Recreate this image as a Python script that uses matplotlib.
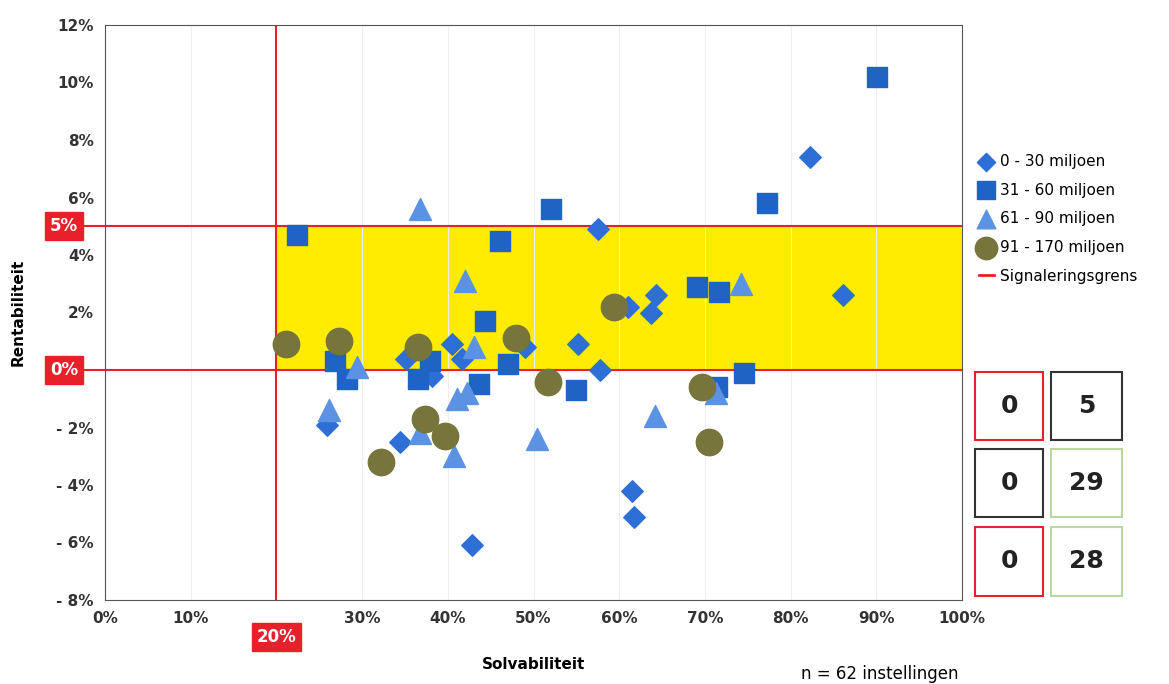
import matplotlib.pyplot as plt
from matplotlib.patches import Rectangle
from matplotlib.lines import Line2D

d_x = [25.9, 34.4, 35.1, 40.5, 41.7, 49.0, 55.2, 57.5, 57.8, 61.0, 63.7, 64.3, 61.5, 61.7, 42.8, 82.3, 86.1, 38.2]
d_y = [-1.9, -2.5, 0.4, 0.9, 0.4, 0.8, 0.9, 4.9, 0.0, 2.2, 2.0, 2.6, -4.2, -5.1, -6.1, 7.4, 2.6, -0.2]
s_x = [22.4, 26.8, 28.2, 36.5, 37.9, 44.3, 43.6, 46.1, 47.0, 52.0, 55.0, 69.1, 71.6, 71.4, 74.6, 77.2, 90.1]
s_y = [4.7, 0.3, -0.3, -0.3, 0.3, 1.7, -0.5, 4.5, 0.2, 5.6, -0.7, 2.9, 2.7, -0.6, -0.1, 5.8, 10.2]
t_x = [36.7, 42.0, 43.0, 29.4, 26.1, 36.7, 40.7, 41.1, 42.2, 50.4, 64.2, 71.3, 74.2]
t_y = [5.6, 3.1, 0.8, 0.1, -1.4, -2.2, -3.0, -1.0, -0.8, -2.4, -1.6, -0.8, 3.0]
c_x = [21.1, 27.3, 36.5, 48.0, 51.7, 59.4, 37.3, 39.7, 32.2, 69.7, 70.5]
c_y = [0.9, 1.0, 0.8, 1.1, -0.4, 2.2, -1.7, -2.3, -3.2, -0.6, -2.5]

x_ticks = list(range(0, 101, 10))
y_ticks = list(range(-8, 13, 2))
counts = [["0", "5"], ["0", "29"], ["0", "28"]]

W, H = 1169, 684
fig = plt.figure(figsize=(W / 100, H / 100), dpi=100)
ax = fig.add_axes([105 / W, 1 - 600 / H, (962 - 105) / W, (600 - 25) / H])
ax.set_xlim(0, 100)
ax.set_ylim(-8, 12)

ax.add_patch(Rectangle((20, 0), 80, 5, color="#ffec00", zorder=1))
ax.grid(axis="x", color="#eeeeee", lw=0.8, zorder=0)
ax.axvline(20, color="#e8202a", lw=1.5, zorder=2)
for yv in (0, 5):
    ax.add_line(Line2D([-6, 100], [yv, yv], color="#e8202a", lw=1.5, clip_on=False, zorder=2))

ax.scatter(d_x, d_y, marker="D", s=120, color="#2e6fd6", zorder=3, label="0 - 30 miljoen")
ax.scatter(s_x, s_y, marker="s", s=210, color="#1f63c4", zorder=3, label="31 - 60 miljoen")
ax.scatter(t_x, t_y, marker="^", s=250, color="#5b92e3", zorder=3, label="61 - 90 miljoen")
ax.scatter(c_x, c_y, marker="o", s=360, color="#77753c", zorder=3, label="91 - 170 miljoen")

ax.set_xticks(x_ticks)
ax.set_xticklabels(["" if v == 20 else f"{v}%" for v in x_ticks], fontsize=11, fontweight="bold", color="#333333")
ax.set_yticks(y_ticks)
ax.set_yticklabels(["" if v == 0 else (f"{v}%" if v > 0 else f"- {-v}%") for v in y_ticks],
                   fontsize=11, fontweight="bold", color="#333333")
ax.tick_params(length=0, pad=8)
for sp in ax.spines.values():
    sp.set_color("#555555")
ax.set_xlabel("Solvabiliteit", fontsize=11, fontweight="bold", labelpad=22)
ax.set_ylabel("Rentabiliteit", fontsize=11, fontweight="bold", labelpad=22)

# red boxed labels
box = dict(boxstyle="square,pad=0.3", fc="#e8202a", ec="#e8202a")
ax.text(-4.8, 5, "5%", ha="center", va="center", color="white", fontsize=12, fontweight="bold", bbox=box, zorder=5, clip_on=False)
ax.text(-4.8, 0, "0%", ha="center", va="center", color="white", fontsize=12, fontweight="bold", bbox=box, zorder=5, clip_on=False)
ax.text(20, -9.3, "20%", ha="center", va="center", color="white", fontsize=12, fontweight="bold", bbox=box, zorder=5, clip_on=False)

handles, labels = ax.get_legend_handles_labels()
handles.append(Line2D([], [], color="#e8202a", lw=2))
labels.append("Signaleringsgrens")
fig.legend(handles, labels, loc="upper left", bbox_to_anchor=(965 / W, 1 - 140 / H),
           frameon=False, fontsize=11, markerscale=0.85, handlelength=1.0,
           handletextpad=0.4, labelspacing=0.9)

# count boxes
cols = [(975, 1043), (1051, 1122)]
rows = [(372, 440), (449, 517), (527, 596)]
edge = [["#e8202a", "#333333"], ["#333333", "#b8d8a0"], ["#e8202a", "#b8d8a0"]]
for i, (y0, y1) in enumerate(rows):
    for j, (x0, x1) in enumerate(cols):
        fig.add_artist(Rectangle((x0 / W, 1 - y1 / H), (x1 - x0) / W, (y1 - y0) / H,
                                 transform=fig.transFigure, fc="white", ec=edge[i][j], lw=1.5))
        fig.text((x0 + x1) / 2 / W, 1 - (y0 + y1) / 2 / H, counts[i][j],
                 ha="center", va="center", fontsize=18, fontweight="bold", color="#222222")

fig.text(880 / W, 1 - 674 / H, "n = 62 instellingen", ha="center", va="center", fontsize=12)

fig.savefig("out.png", dpi=100)
